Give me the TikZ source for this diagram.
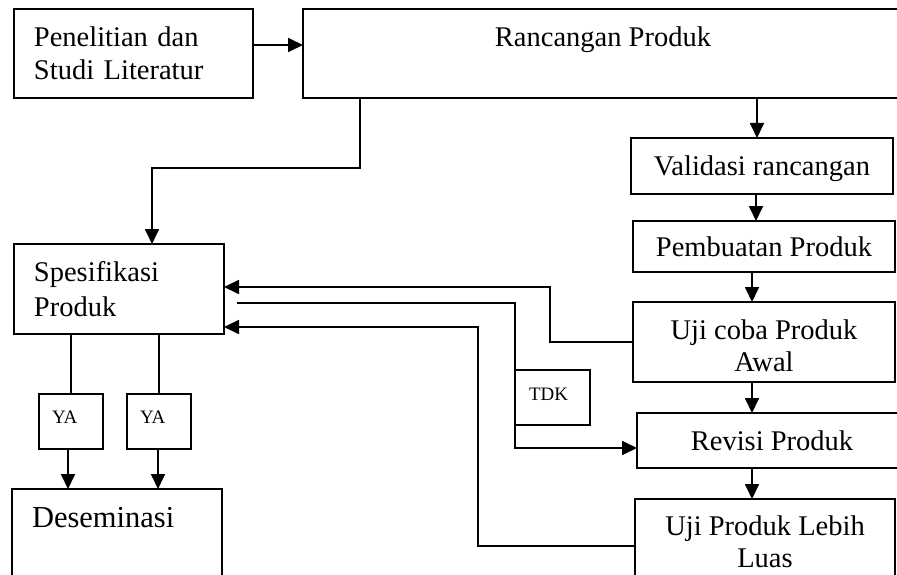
\documentclass[tikz,border=0pt]{standalone}
\usepackage{fontspec}
\setmainfont{Liberation Serif}
\usetikzlibrary{arrows.meta}
\begin{document}
\begin{tikzpicture}[x=1pt,y=-1pt,
  box/.style={draw, line width=1.8pt, inner sep=0pt, outer sep=0pt, anchor=north west,
    font=\fontsize{28.5pt}{33pt}\selectfont},
  smallbox/.style={box, font=\fontsize{19pt}{22pt}\selectfont},
  conn/.style={line width=1.8pt},
  arr/.style={conn, -{Triangle[length=15pt,width=14pt]}}]
\useasboundingbox (0,0) rectangle (897,575);
\clip (0,0) rectangle (897,575);
% boxes
\node[box, minimum width=239pt, minimum height=89pt, text width=199pt, align=left] (pen) at (14,9) {Penelitian dan\\Studi Literatur};
\node[box, minimum width=600pt, minimum height=89pt, text depth=34.5pt] (ranc) at (303,9) {Rancangan Produk};
\node[box, minimum width=262pt, minimum height=56pt, text height=24.2pt] (val) at (631,138) {Validasi rancangan};
\node[box, minimum width=262pt, minimum height=51pt] (pem) at (633,221) {Pembuatan Produk};
\node[box, minimum width=262pt, minimum height=80pt, align=center, font=\fontsize{28.5pt}{32pt}\selectfont] (uji) at (633,302) {\rule{0pt}{28pt}Uji coba Produk\\Awal};
\node[box, minimum width=270pt, minimum height=55pt] (rev) at (637,413) {Revisi Produk};
\node[box, minimum width=260pt, minimum height=84.5pt, align=center, font=\fontsize{28.5pt}{32pt}\selectfont] (luas) at (635,499) {Uji Produk Lebih\\Luas};
\node[box, minimum width=210pt, minimum height=90pt, text width=170pt, align=left, font=\fontsize{28.5pt}{35pt}\selectfont] (spes) at (14,244) {Spesifikasi\\Produk};
\node[smallbox, minimum width=64pt, minimum height=55pt, text width=38pt, align=left, text depth=8pt] (ya1) at (39,394) {YA};
\node[smallbox, minimum width=64pt, minimum height=55pt, text width=38pt, align=left, text depth=8pt] (ya2) at (127,394) {YA};
\node[smallbox, minimum width=75pt, minimum height=55pt, text width=47pt, align=left, text depth=6.2pt] (tdk) at (515,370) {TDK};
\node[box, minimum width=210pt, minimum height=100pt, text width=170pt, align=left, text depth=42.8pt, font=\fontsize{30.5pt}{35pt}\selectfont] (des) at (12,489) {Deseminasi};
% connectors
\draw[arr] ([yshift=8.5pt]pen.east) -- ([yshift=8.5pt]ranc.west);
\draw[arr] ([xshift=57pt]ranc.south west) -- ++(0,70) -| ([xshift=138pt]spes.north west);
\draw[arr] ([xshift=454pt]ranc.south west) -- ([xshift=454pt]ranc.south west |- val.north);
\draw[arr] ([xshift=-6pt]val.south) -- ([xshift=-6pt]val.south |- pem.north);
\draw[arr] ([xshift=-12pt]pem.south) -- ([xshift=-12pt]pem.south |- uji.north);
\draw[arr] ([xshift=-12pt]uji.south) -- ([xshift=-12pt]uji.south |- rev.north);
\draw[arr] ([xshift=-20pt]rev.south) -- ([xshift=-20pt]rev.south |- luas.north);
\draw[arr] (uji.west) -| ([xshift=326pt,yshift=2pt]spes.east) -- ([yshift=2pt]spes.east);
\draw[arr] ([yshift=-4.75pt]luas.west) -| ([xshift=254pt,yshift=-38pt]spes.east) -- ([yshift=-38pt]spes.east);
\coordinate (c2) at (237,303);
\draw[conn] (c2) -| (tdk.north west);
\draw[arr] (tdk.south west) |- ([yshift=-7.5pt]rev.west);
\draw[conn] (spes.south -| ya1.north) -- (ya1.north);
\draw[conn] (spes.south -| ya2.north) -- (ya2.north);
\draw[arr] ([xshift=-3pt]ya1.south) -- ([xshift=-3pt]ya1.south |- des.north);
\draw[arr] ([xshift=-1pt]ya2.south) -- ([xshift=-1pt]ya2.south |- des.north);
\end{tikzpicture}
\end{document}
